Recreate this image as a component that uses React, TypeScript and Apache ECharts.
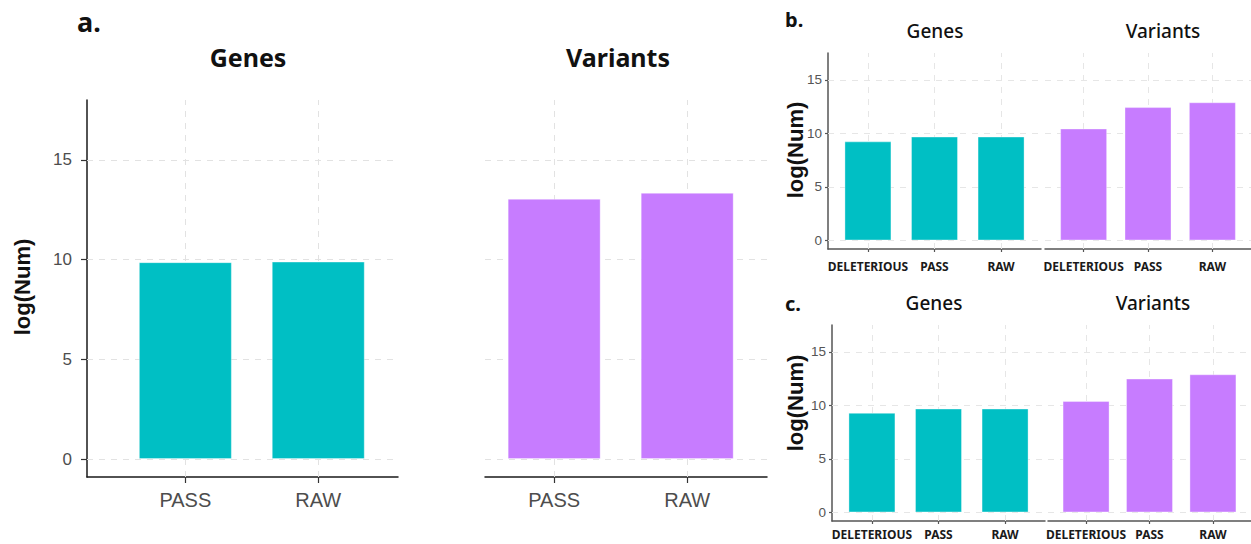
import React, { useEffect, useRef } from "react";
import * as echarts from "echarts";

// ---- data ----
const facetNames = ["Genes", "Variants"];
const panelLetters = ["a.", "b.", "c."];
const catsA = ["PASS", "RAW"];
const catsBC = ["DELETERIOUS", "PASS", "RAW"];
const aGenes = [9.87, 9.9];
const aVariants = [13.05, 13.35];
const bGenes = [9.25, 9.7, 9.7];
const bVariants = [10.45, 12.45, 12.9];
const cGenes = [9.3, 9.7, 9.7];
const cVariants = [10.4, 12.5, 12.9];
const yTicks = [0, 5, 10, 15];
const yLabel = "log(Num)";

const TEAL = "#00BFC4";
const PURPLE = "#C77CFF";

type PanelSpec = {
  cats: string[];
  values: number[];
  color: string;
  grid: { left: number; top: number; width: number; height: number };
  xMin: number;
  xMax: number;
  yMin: number;
  yMax: number;
  showY: boolean;
  big: boolean;
  barWidth: number;
  labelMargin: number;
};

export default function App() {
  const ref = useRef<HTMLDivElement>(null);

  useEffect(() => {
    if (!ref.current) return;
    const chart = echarts.init(ref.current, undefined, { renderer: "svg" });

    const panels: PanelSpec[] = [
      { cats: catsA, values: aGenes, color: TEAL, grid: { left: 87, top: 100, width: 311, height: 377 }, xMin: 0.26, xMax: 2.6, yMin: -0.9, yMax: 18, showY: true, big: true, barWidth: 93, labelMargin: 13 },
      { cats: catsA, values: aVariants, color: PURPLE, grid: { left: 485, top: 100, width: 282, height: 377 }, xMin: 0.48, xMax: 2.6, yMin: -0.9, yMax: 18, showY: false, big: true, barWidth: 93, labelMargin: 13 },
      { cats: catsBC, values: bGenes, color: TEAL, grid: { left: 828, top: 53, width: 213, height: 196 }, xMin: 0.4, xMax: 3.6, yMin: -0.8, yMax: 17.5, showY: true, big: false, barWidth: 47, labelMargin: 11 },
      { cats: catsBC, values: bVariants, color: PURPLE, grid: { left: 1045, top: 53, width: 213, height: 196 }, xMin: 0.4, xMax: 3.6, yMin: -0.8, yMax: 17.5, showY: false, big: false, barWidth: 47, labelMargin: 11 },
      { cats: catsBC, values: cGenes, color: TEAL, grid: { left: 832, top: 325, width: 213, height: 196 }, xMin: 0.4, xMax: 3.6, yMin: -0.8, yMax: 17.5, showY: true, big: false, barWidth: 47, labelMargin: 7 },
      { cats: catsBC, values: cVariants, color: PURPLE, grid: { left: 1048, top: 325, width: 213, height: 196 }, xMin: 0.4, xMax: 3.6, yMin: -0.8, yMax: 17.5, showY: false, big: false, barWidth: 47, labelMargin: 7 },
    ];

    const grids = panels.map((p) => ({ ...p.grid, containLabel: false }));

    const xAxes = panels.map((p, i) => {
      const pos = p.cats.map((_, k) => k + 1);
      const axisColor = p.big ? "#1a1a1a" : "#555";
      return {
        type: "value",
        gridIndex: i,
        min: p.xMin,
        max: p.xMax,
        splitLine: { show: false },
        axisLine: { show: true, onZero: false, lineStyle: { color: axisColor, width: 1.5 } },
        axisTick: {
          show: true,
          customValues: pos,
          length: p.big ? 6 : 3,
          lineStyle: { color: p.big ? "#333" : "#555", width: 1.2 },
        },
        axisLabel: {
          show: true,
          customValues: pos,
          formatter: (v: number) => p.cats[Math.round(v) - 1] ?? "",
          margin: p.labelMargin,
          fontFamily: p.big ? "Liberation Sans" : "Noto Sans",
          fontSize: p.big ? 20 : 12,
          fontWeight: p.big ? "normal" : "bold",
          color: p.big ? "#4d4d4d" : "#1a1a1a",
        },
      };
    });

    const yAxes = panels.map((p, i) => ({
      type: "value",
      gridIndex: i,
      min: p.yMin,
      max: p.yMax,
      splitLine: { show: false },
      axisLine: { show: p.showY, onZero: false, lineStyle: { color: p.big ? "#1a1a1a" : "#555", width: 1.5 } },
      axisTick: {
        show: p.showY,
        customValues: yTicks,
        length: p.big ? 6 : 3,
        lineStyle: { color: p.big ? "#333" : "#555", width: 1.2 },
      },
      axisLabel: {
        show: p.showY,
        customValues: yTicks,
        margin: p.big ? 15 : 6,
        fontFamily: "Liberation Sans",
        fontSize: p.big ? 17 : 13.5,
        color: p.big ? "#4d4d4d" : "#555",
      },
    }));

    const series = panels.map((p, i) => ({
      type: "bar",
      xAxisIndex: i,
      yAxisIndex: i,
      z: 2,
      barWidth: p.barWidth,
      itemStyle: { color: p.color, borderColor: "rgba(255,255,255,0.35)", borderWidth: 1 },
      data: p.values.map((v, k) => [k + 1, v]),
      markLine: {
        silent: true,
        z: 1,
        symbol: ["none", "none"],
        label: { show: false },
        lineStyle: { type: [6, 6], color: p.big ? "#e2e2e2" : "#e6e6e6", width: 1 },
        data: [
          ...yTicks.map((v) => ({ yAxis: v })),
          ...p.cats.map((_, k) => ({ xAxis: k + 1 })),
        ],
      },
    }));

    const titleBig = { fontFamily: "Noto Sans", fontSize: 25, fontWeight: "bold", fill: "#111" };
    const titleSmall = { fontFamily: "Noto Sans", fontSize: 19, fontWeight: 500, fill: "#111" };
    const ylabBig = { fontFamily: "Liberation Sans", fontSize: 22, fontWeight: "bold", fill: "#111" };

    const centerText = (text: string, x: number, y: number, style: any, rotation = 0) => ({
      type: "text",
      x,
      y,
      rotation,
      style: { text, align: "center", verticalAlign: "middle", ...style },
    });

    const graphic = [
      { type: "text", x: 77, y: 21, style: { text: panelLetters[0], verticalAlign: "middle", fontFamily: "Noto Sans", fontSize: 27, fontWeight: "bold", fill: "#111" } },
      { type: "text", x: 785, y: 19, style: { text: panelLetters[1], verticalAlign: "middle", fontFamily: "Noto Sans", fontSize: 20, fontWeight: "bold", fill: "#111" } },
      { type: "text", x: 785, y: 303, style: { text: panelLetters[2], verticalAlign: "middle", fontFamily: "Noto Sans", fontSize: 20, fontWeight: "bold", fill: "#111" } },
      centerText(facetNames[0], 248, 57, titleBig),
      centerText(facetNames[1], 618, 57, titleBig),
      centerText(facetNames[0], 935, 31, titleSmall),
      centerText(facetNames[1], 1163, 31, titleSmall),
      centerText(facetNames[0], 934, 303, titleSmall),
      centerText(facetNames[1], 1153, 303, titleSmall),
      centerText(yLabel, 22, 287, ylabBig, Math.PI / 2),
      centerText(yLabel, 795, 150, ylabBig, Math.PI / 2),
      centerText(yLabel, 795, 403, ylabBig, Math.PI / 2),
    ];

    chart.setOption({
      animation: false,
      backgroundColor: "#ffffff",
      grid: grids,
      xAxis: xAxes,
      yAxis: yAxes,
      series,
      graphic,
    } as any);

    return () => chart.dispose();
  }, []);

  return (
    <div
      ref={ref}
      style={{ position: "fixed", left: 0, top: 0, width: 1251, height: 544, background: "#fff" }}
    />
  );
}
